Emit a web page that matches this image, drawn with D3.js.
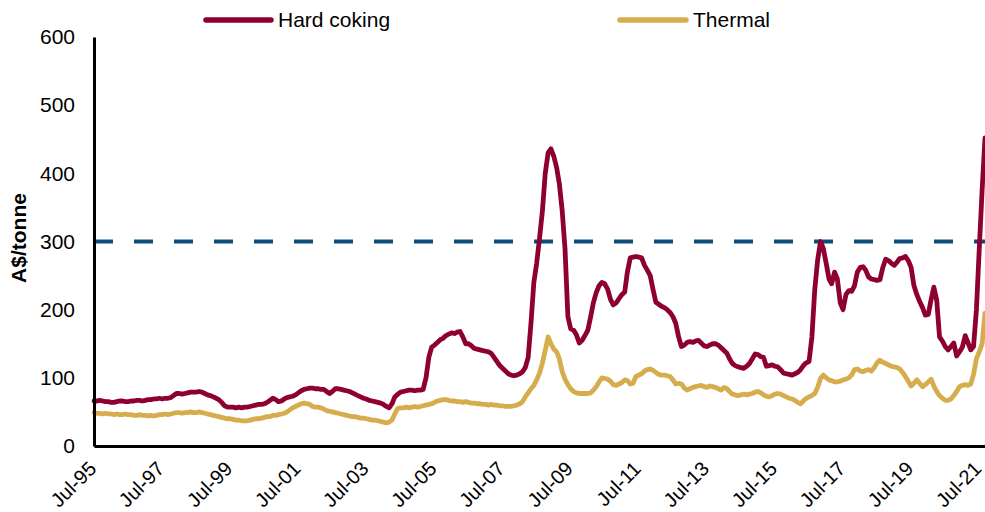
<!DOCTYPE html>
<html>
<head>
<meta charset="utf-8">
<script src="https://cdn.jsdelivr.net/npm/d3@7"></script>
<style>
  html, body { margin: 0; padding: 0; background: #fff; }
  svg { display: block; font-family: "Liberation Sans", Arial, sans-serif; }
</style>
</head>
<body>
<svg id="chart" width="985" height="512"></svg>
<script>
// ---- Data (monthly, starting Jul-1995) ----
const startMonth = "1995-07";
const seriesNames = ["Hard coking", "Thermal"];
const hardCoking = [
  66,66,67,66,65,65,64,64,65,66,66,65,
  65,66,66,67,67,66,67,68,68,69,69,70,
  69,70,70,71,74,77,77,76,77,78,79,79,
  79,80,79,77,75,74,72,70,68,64,59,57,
  57,57,56,57,56,57,57,58,59,60,61,61,
  62,64,67,70,68,65,66,69,71,72,73,75,
  78,81,83,84,85,85,84,84,83,83,80,77,
  80,84,84,83,82,81,80,78,76,74,72,70,
  69,67,66,65,64,63,61,58,56,62,72,76,
  79,80,81,82,82,81,82,82,83,100,130,145,
  148,152,156,158,162,164,166,165,167,168,160,150,
  150,147,143,142,141,140,139,138,136,130,124,118,
  114,110,106,104,103,104,106,109,115,130,180,240,
  268,305,345,400,430,436,425,408,385,345,290,190,
  172,170,163,151,155,162,170,190,210,225,235,240,
  238,230,215,207,210,216,222,226,255,276,277,278,
  277,276,265,258,250,230,211,208,205,203,200,196,
  190,180,160,146,148,152,153,152,154,155,151,147,
  146,148,150,150,148,144,140,136,128,121,118,116,
  115,114,117,121,128,135,134,131,130,117,118,119,
  117,116,112,107,106,105,104,106,108,112,118,122,
  124,160,230,272,300,290,268,245,238,255,245,210,
  200,222,228,227,235,255,262,263,258,248,245,244,
  243,244,262,274,272,268,265,270,275,276,278,272,
  262,235,222,212,203,192,193,215,233,214,160,154,
  146,141,146,151,132,138,145,162,152,141,146,200,
  288,375,452
];
const thermal = [
  49,48,48,47,48,47,47,46,47,46,46,47,
  46,46,45,45,46,45,45,44,45,44,45,46,
  46,47,46,47,48,49,49,48,49,49,50,49,
  49,50,49,48,47,46,45,44,43,42,41,40,
  40,39,38,38,37,37,37,38,39,40,40,41,
  42,43,43,45,45,46,47,48,50,53,56,58,
  60,62,63,62,61,58,57,57,56,54,52,51,
  50,49,48,47,46,45,44,43,43,42,41,41,
  40,39,38,38,37,36,35,34,35,38,47,55,
  56,56,57,56,57,58,57,58,59,60,61,62,
  64,66,67,68,68,67,66,66,65,65,64,65,
  64,63,63,62,62,61,61,60,61,60,60,59,
  59,58,58,58,59,60,62,65,72,78,84,89,
  97,107,122,140,160,150,142,138,128,109,98,90,
  84,80,78,77,77,77,77,78,82,87,94,100,
  99,98,95,90,89,91,93,97,96,91,92,102,
  104,106,110,112,113,111,108,105,104,104,103,102,
  97,91,92,91,85,82,84,86,87,88,89,87,
  86,88,87,86,84,82,86,84,80,76,75,74,
  75,76,75,76,77,79,80,78,75,73,72,74,
  76,77,76,74,72,70,69,67,64,62,66,70,
  72,74,77,86,99,104,100,97,96,94,94,95,
  97,98,100,104,112,113,110,109,111,112,110,115,
  122,126,123,121,119,117,116,115,113,108,102,95,
  88,92,97,92,87,90,94,98,88,80,74,70,
  67,67,69,74,80,87,89,90,89,91,105,128,
  138,150,195
];
const thresholdValue = 300;
const yTicks = [0, 100, 200, 300, 400, 500, 600];
const xTickLabels = ["Jul-95","Jul-97","Jul-99","Jul-01","Jul-03","Jul-05","Jul-07",
                     "Jul-09","Jul-11","Jul-13","Jul-15","Jul-17","Jul-19","Jul-21"];
const yTitle = "A$/tonne";

(function () {
  const parseM = d3.timeParse("%Y-%m");
  const parseTick = d3.timeParse("%b-%y");
  const start = parseM(startMonth);
  const dates = hardCoking.map((_, i) => d3.timeMonth.offset(start, i));
  const colors = { "Hard coking": "#8E0031", "Thermal": "#D6AD4C" };

  const svg = d3.select("#chart");
  const pl = 94, pr = 985, pt = 37, pb = 446;

  const x = d3.scaleTime().domain([dates[0], dates[dates.length - 1]]).range([pl, pr]);
  const y = d3.scaleLinear().domain([0, 600]).range([pb, pt]);

  // threshold dashed line
  svg.append("line")
    .attr("x1", pl).attr("x2", pr)
    .attr("y1", y(thresholdValue)).attr("y2", y(thresholdValue))
    .attr("stroke", "#0C4E78").attr("stroke-width", 4)
    .attr("stroke-dasharray", "19,21");

  // series lines
  const line = d3.line().x((d, i) => x(dates[i])).y(d => y(d)).curve(d3.curveLinear);
  [["Thermal", thermal], ["Hard coking", hardCoking]].forEach(([name, vals]) => {
    svg.append("path")
      .datum(vals)
      .attr("d", line)
      .attr("fill", "none")
      .attr("stroke", colors[name])
      .attr("stroke-width", 4.8)
      .attr("stroke-linejoin", "round")
      .attr("stroke-linecap", "round");
  });

  // Y axis
  const yAxis = d3.axisLeft(y).tickValues(yTicks).tickSize(0).tickPadding(19);
  const gy = svg.append("g").attr("transform", `translate(${pl},0)`).call(yAxis);
  gy.select(".domain").attr("stroke", "#000").attr("stroke-width", 3);
  gy.selectAll("text").attr("font-size", 21).attr("fill", "#000")
    .attr("font-family", "'Liberation Sans', Arial, sans-serif");

  // X axis
  const xTickDates = xTickLabels.map(s => parseTick(s));
  const xAxis = d3.axisBottom(x).tickValues(xTickDates).tickSize(0)
    .tickFormat((d, i) => xTickLabels[i]);
  const gx = svg.append("g").attr("transform", `translate(0,${pb})`).call(xAxis);
  gx.select(".domain").attr("stroke", "#000").attr("stroke-width", 3);
  gx.selectAll("text")
    .attr("font-size", 20).attr("fill", "#000")
    .attr("font-family", "'Liberation Sans', Arial, sans-serif")
    .attr("text-anchor", "end")
    .attr("dy", null).attr("y", 0)
    .attr("transform", "translate(3,24) rotate(-45)");

  // Y title
  svg.append("text")
    .attr("transform", `translate(26,238) rotate(-90)`)
    .attr("text-anchor", "middle")
    .attr("font-size", 21).attr("font-weight", "bold")
    .text(yTitle);

  // Legend
  const legendItems = [
    { name: seriesNames[0], x1: 206, x2: 271, tx: 278 },
    { name: seriesNames[1], x1: 620, x2: 686, tx: 693 }
  ];
  legendItems.forEach(it => {
    svg.append("line")
      .attr("x1", it.x1).attr("x2", it.x2).attr("y1", 20).attr("y2", 20)
      .attr("stroke", colors[it.name]).attr("stroke-width", 5.5)
      .attr("stroke-linecap", "round");
    svg.append("text")
      .attr("x", it.tx).attr("y", 27)
      .attr("font-size", 21).attr("fill", "#000")
      .text(it.name);
  });
})();
</script>
</body>
</html>
